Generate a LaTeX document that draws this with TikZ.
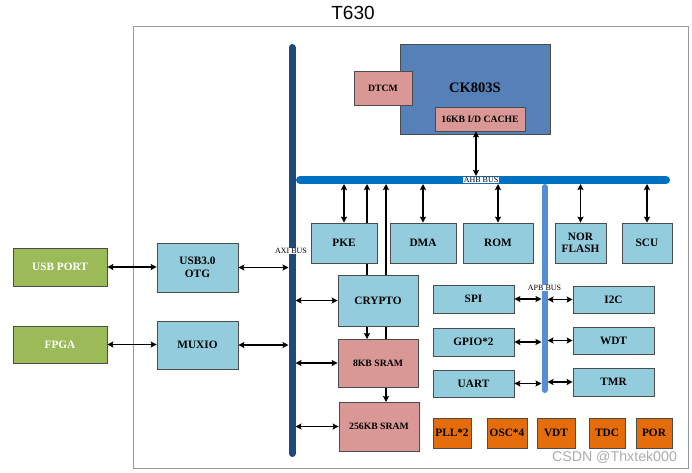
\documentclass[tikz,border=0pt]{standalone}
\usepackage{fontspec}
\setmainfont{Liberation Serif}
\newfontfamily\sansf{Liberation Sans}
\usetikzlibrary{arrows.meta}
\definecolor{lblue}{HTML}{93CDDD}
\definecolor{pinkc}{HTML}{D99795}
\definecolor{cpuc}{HTML}{5680B8}
\definecolor{greenc}{HTML}{9BBB59}
\definecolor{orangec}{HTML}{E46C0A}
\definecolor{axic}{HTML}{1F497D}
\definecolor{ahbc}{HTML}{0070C0}
\definecolor{apbc}{HTML}{558ED5}
\definecolor{framec}{HTML}{9A9A9A}
\begin{document}
\begin{tikzpicture}[x=1pt,y=-1pt,
  blk/.style={draw=black!70, line width=0.7pt, inner sep=0pt, align=center,
    font=\bfseries\fontsize{11.3}{12.5}\selectfont},
  lb/.style={blk, fill=lblue},
  pk/.style={blk, fill=pinkc},
  gr/.style={blk, fill=greenc, text=white},
  orb/.style={blk, fill=orangec},
  smalltxt/.style={font=\bfseries\fontsize{9.7}{11}\selectfont},
  dar/.style={line width=1.8pt, {Stealth[length=6pt,width=6pt,inset=1pt]}-{Stealth[length=6pt,width=6pt,inset=1pt]}},
  busl/.style={fill=white, inner sep=0.6pt, font=\fontsize{8}{9}\selectfont},
]
\useasboundingbox (0,0) rectangle (692,472);
\fill[white] (0,0) rectangle (692,472);

% title and frame
\node[font=\sansf\fontsize{19}{21}\selectfont] (title) at (353,13) {T630};
\draw[framec, line width=0.9pt] (133,26) rectangle (688,468);

% bus coordinates
\coordinate (axiL) at (288.5,0);
\coordinate (axiR) at (295.5,0);
\coordinate (ahbT) at (0,176);
\coordinate (ahbB) at (0,184);
\coordinate (apbL) at (541.5,0);
\coordinate (apbR) at (547.5,0);
\coordinate (c1) at (367,0);
\coordinate (c2) at (386,0);

% nodes
\node[fill=cpuc, draw=black!70, line width=0.7pt, minimum width=150pt, minimum height=90pt] (ck) at (475,89) {};
\node[font=\bfseries\fontsize{14.5}{16}\selectfont] (cklabel) at (475,88) {CK803S};
\node[pk, smalltxt, minimum width=58pt, minimum height=34pt] (dtcm) at (383,88) {DTCM};
\node[pk, smalltxt, minimum width=90pt, minimum height=24pt] (cache) at (480,119) {16KB I/D CACHE};

% lines behind boxes
\draw[dar] (c1 |- ahbB) -- (c1 |- 0,339);
\draw[dar] (c2 |- ahbB) -- (c2 |- 0,402);

\node[lb, minimum width=66pt, minimum height=40pt] (pke) at (344,243) {PKE};
\node[lb, minimum width=66pt, minimum height=40pt] (dma) at (423,243) {DMA};
\node[lb, minimum width=70pt, minimum height=40pt] (rom) at (498,243) {ROM};
\node[lb, minimum width=51pt, minimum height=40pt] (nor) at (580.5,243) {NOR\\FLASH};
\node[lb, minimum width=50pt, minimum height=40pt] (scu) at (647,243) {SCU};

\node[lb, minimum width=80pt, minimum height=51pt] (crypto) at (378,300.5) {CRYPTO};
\node[pk, smalltxt, minimum width=80pt, minimum height=48pt] (sram8) at (378,363) {8KB SRAM};
\node[pk, smalltxt, minimum width=80pt, minimum height=49pt] (sram256) at (379,426.5) {256KB SRAM};

\node[gr, minimum width=94pt, minimum height=38pt] (usbport) at (60,267) {USB PORT};
\node[gr, minimum width=94pt, minimum height=37pt] (fpga) at (60,344.5) {FPGA};
\node[lb, minimum width=81pt, minimum height=49pt] (otg) at (197.5,267.5) {USB3.0\\OTG};
\node[lb, minimum width=81pt, minimum height=48pt] (muxio) at (197.5,345) {MUXIO};

\node[lb, minimum width=81pt, minimum height=28pt] (spi) at (473.5,299) {SPI};
\node[lb, minimum width=81pt, minimum height=28pt] (gpio) at (473.5,342) {GPIO*2};
\node[lb, minimum width=81pt, minimum height=27pt] (uart) at (473.5,383.5) {UART};
\node[lb, minimum width=81pt, minimum height=27pt] (i2c) at (613.5,299.5) {I2C};
\node[lb, minimum width=81pt, minimum height=27pt] (wdt) at (613.5,340.5) {WDT};
\node[lb, minimum width=81pt, minimum height=28pt] (tmr) at (613.5,382) {TMR};

\node[orb, minimum width=38pt, minimum height=30pt] (pll) at (452,433) {PLL*2};
\node[orb, minimum width=40pt, minimum height=30pt] (osc) at (507,433) {OSC*4};
\node[orb, minimum width=38pt, minimum height=30pt] (vdt) at (556,433) {VDT};
\node[orb, minimum width=36pt, minimum height=30pt] (tdc) at (607,433) {TDC};
\node[orb, minimum width=36pt, minimum height=30pt] (por) at (654,433) {POR};

% buses
\draw[axic, line width=7pt, line cap=round] (292,47.5) coordinate (axitop) -- (292,453.5) coordinate (axibot);
\draw[ahbc, line width=8pt, line cap=round] (300,180) coordinate (ahbs) -- (666,180) coordinate (ahbe);
\draw[apbc, line width=6pt, line cap=round] (544.5,187) coordinate (apbtop) -- (544.5,390) coordinate (apbbot);
\node[busl] (axilabel) at (291,251) {AXI BUS};
\node[busl] (ahblabel) at (481,180) {AHB BUS};
\node[busl] (apblabel) at (544.5,288) {APB BUS};

% connectors
\draw[dar] ([xshift=-4pt]cache.south) -- ([xshift=-4pt]cache.south |- ahbT);
\draw[dar] (pke.north) -- (pke.north |- ahbB);
\draw[dar] (dma.north) -- (dma.north |- ahbB);
\draw[dar] (rom.north) -- (rom.north |- ahbB);
\draw[dar] (nor.north) -- (nor.north |- ahbB);
\draw[dar] (scu.north) -- (scu.north |- ahbB);

\draw[dar] (usbport.east) -- (otg.west |- usbport.east);
\draw[dar] (fpga.east) -- (muxio.west |- fpga.east);
\draw[dar] (otg.east) -- (otg.east -| axiL);
\draw[dar] (muxio.east) -- (muxio.east -| axiL);
\draw[dar] (crypto.west) -- (crypto.west -| axiR);
\draw[dar] (sram8.west) -- (sram8.west -| axiR);
\draw[dar] (sram256.west) -- (sram256.west -| axiR);

\draw[dar] (spi.east) -- (spi.east -| apbL);
\draw[dar] (gpio.east) -- (gpio.east -| apbL);
\draw[dar] (uart.east) -- (uart.east -| apbL);
\draw[dar] (i2c.west) -- (i2c.west -| apbR);
\draw[dar] (wdt.west) -- (wdt.west -| apbR);
\draw[dar] (tmr.west) -- (tmr.west -| apbR);

% watermark
\node[font=\sansf\fontsize{14.2}{16}\selectfont, text=black!32] (wm) at (614.5,457) {CSDN @Thxtek000};
\end{tikzpicture}
\end{document}
